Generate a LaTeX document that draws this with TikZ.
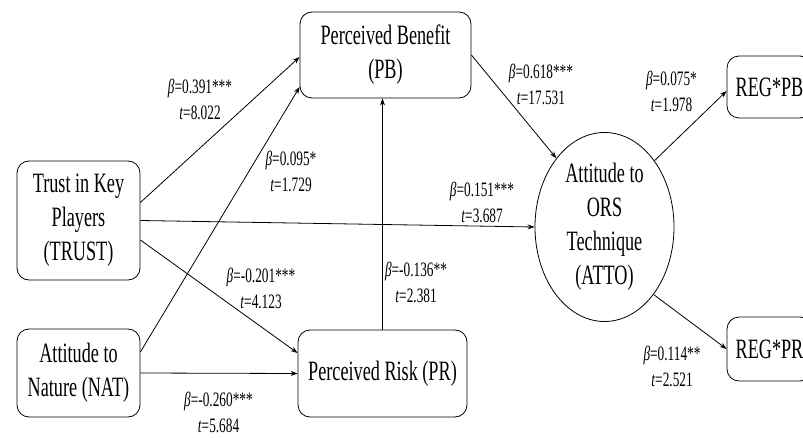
\documentclass[tikz,border=0pt]{standalone}
\usepackage{fontspec}
\setmainfont{Liberation Serif}[FakeStretch=0.65]
\usetikzlibrary{shapes.geometric,arrows.meta}
\tikzset{
  box/.style={draw,rounded corners=12pt,line width=0.8pt,align=center,
    font=\fontsize{28}{34}\selectfont,inner sep=0pt},
  lbl/.style={align=center,font=\fontsize{20.5}{26}\selectfont,inner sep=0pt},
  path/.style={draw,line width=0.8pt,-{Stealth[length=7pt,width=5pt]}}
}
\newcommand{\bt}[2]{\textit{β}=#1\\\textit{t}=#2}
\begin{document}
\begin{tikzpicture}[x=1pt,y=1pt]
\clip (0,0) rectangle (803,437);
\node[box,minimum width=171pt,minimum height=86pt] (pb) at (385.5,382) {Perceived Benefit\\(PB)};
\node[box,minimum width=123pt,minimum height=119pt] (trust) at (78.5,216.5) {Trust in Key\\Players\\(TRUST)};
\node[box,minimum width=123pt,minimum height=88pt] (nat) at (78.5,64) {Attitude to\\Nature (NAT)};
\node[box,minimum width=169pt,minimum height=87pt] (pr) at (382.5,63.5) {Perceived Risk (PR)};
\node[box,ellipse,rounded corners=0pt,minimum width=139pt,minimum height=189pt] (atto) at (604.5,210)
  {Attitude to\\ORS\\Technique\\(ATTO)};
\node[box,minimum width=85pt,minimum height=62pt] (regpb) at (769.5,350) {REG*PB};
\node[box,minimum width=85pt,minimum height=64pt] (regpr) at (769.5,88) {REG*PR};

\draw[path] ([yshift=18pt]trust.east) -- ([yshift=-2pt]pb.west);
\draw[path] ([yshift=21pt]nat.east) -- ([yshift=-32pt]pb.west);
\draw[path] (trust.east) -- (atto.west);
\draw[path] ([yshift=-19.5pt]trust.east) -- ([yshift=20.5pt]pr.west);
\draw[path] (nat.east) -- (pr.west);
\draw[path] (pr.north) -- (pr.north |- pb.south);
\draw[path] (pb.east) -- (atto.125);
\draw[path] (atto.53) -- ([yshift=-4pt]regpb.west);
\draw[path] (atto.-54) -- (regpr.west);

\node[lbl] (l1) at (200,338) {\bt{0.391***}{8.022}};
\node[lbl] (l2) at (291,266) {\bt{0.095*}{1.729}};
\node[lbl] (l3) at (261,148.5) {\bt{-0.201***}{4.123}};
\node[lbl] (l4) at (218.5,25) {\bt{-0.260***}{5.684}};
\node[lbl] (l5) at (416,155) {\bt{-0.136**}{2.381}};
\node[lbl] (l6) at (482,234.5) {\bt{0.151***}{3.687}};
\node[lbl] (l7) at (541,353) {\bt{0.618***}{17.531}};
\node[lbl] (l8) at (671.5,345.5) {\bt{0.075*}{1.978}};
\node[lbl] (l9) at (672,70.5) {\bt{0.114**}{2.521}};
\end{tikzpicture}
\end{document}
